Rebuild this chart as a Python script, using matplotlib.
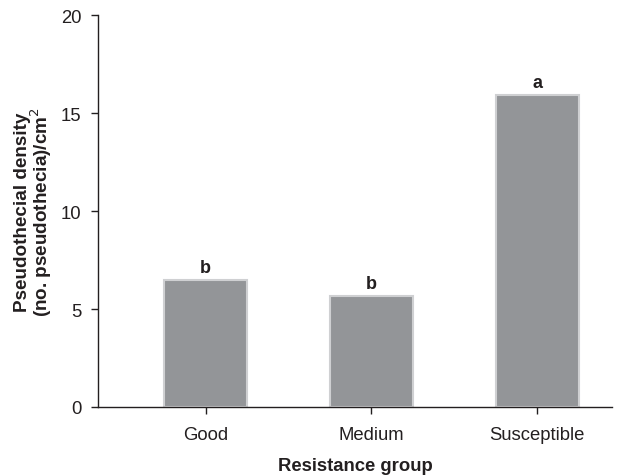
import matplotlib
matplotlib.use("Agg")
import matplotlib.pyplot as plt

plt.rcParams['font.family'] = ['Liberation Sans', 'DejaVu Sans']

groups = ["Good", "Medium", "Susceptible"]
density = [6.48, 5.66, 15.92]
letters = ["b", "b", "a"]

fig = plt.figure(figsize=(6.4, 4.77), dpi=100)
ax = fig.add_axes([0.153, 0.1447, 0.803, 0.8213])

x = range(len(groups))
ax.bar(x, density, width=0.5, color="#939598", edgecolor="#cfd0d2", linewidth=1.5)

for xi, v, lab in zip(x, density, letters):
    ax.text(xi, v + 0.2, lab, ha="center", va="bottom", fontsize=13, fontweight="bold", color="#231f20")

ax.set_xlim(-0.65, 2.45)
ax.set_ylim(0, 20)
ax.set_yticks([0, 5, 10, 15, 20])
ax.set_xticks(list(x))
ax.set_xticklabels(groups)

for side in ("top", "right"):
    ax.spines[side].set_visible(False)
for side in ("left", "bottom"):
    ax.spines[side].set_color("#231f20")
    ax.spines[side].set_linewidth(1.0)

ax.tick_params(axis="both", direction="out", colors="#231f20", labelsize=13.3, length=5, width=1)
ax.tick_params(axis="x", pad=9)
ax.tick_params(axis="y", pad=7)

ax.set_xlabel("Resistance group", fontsize=13.3, fontweight="bold", color="#231f20", labelpad=10)
ax.set_ylabel("Pseudothecial density\n(no. pseudothecia)/cm$^2$", fontsize=13.6, fontweight="bold",
              color="#231f20", labelpad=5, linespacing=0.85)

fig.savefig("out.png", dpi=100)
